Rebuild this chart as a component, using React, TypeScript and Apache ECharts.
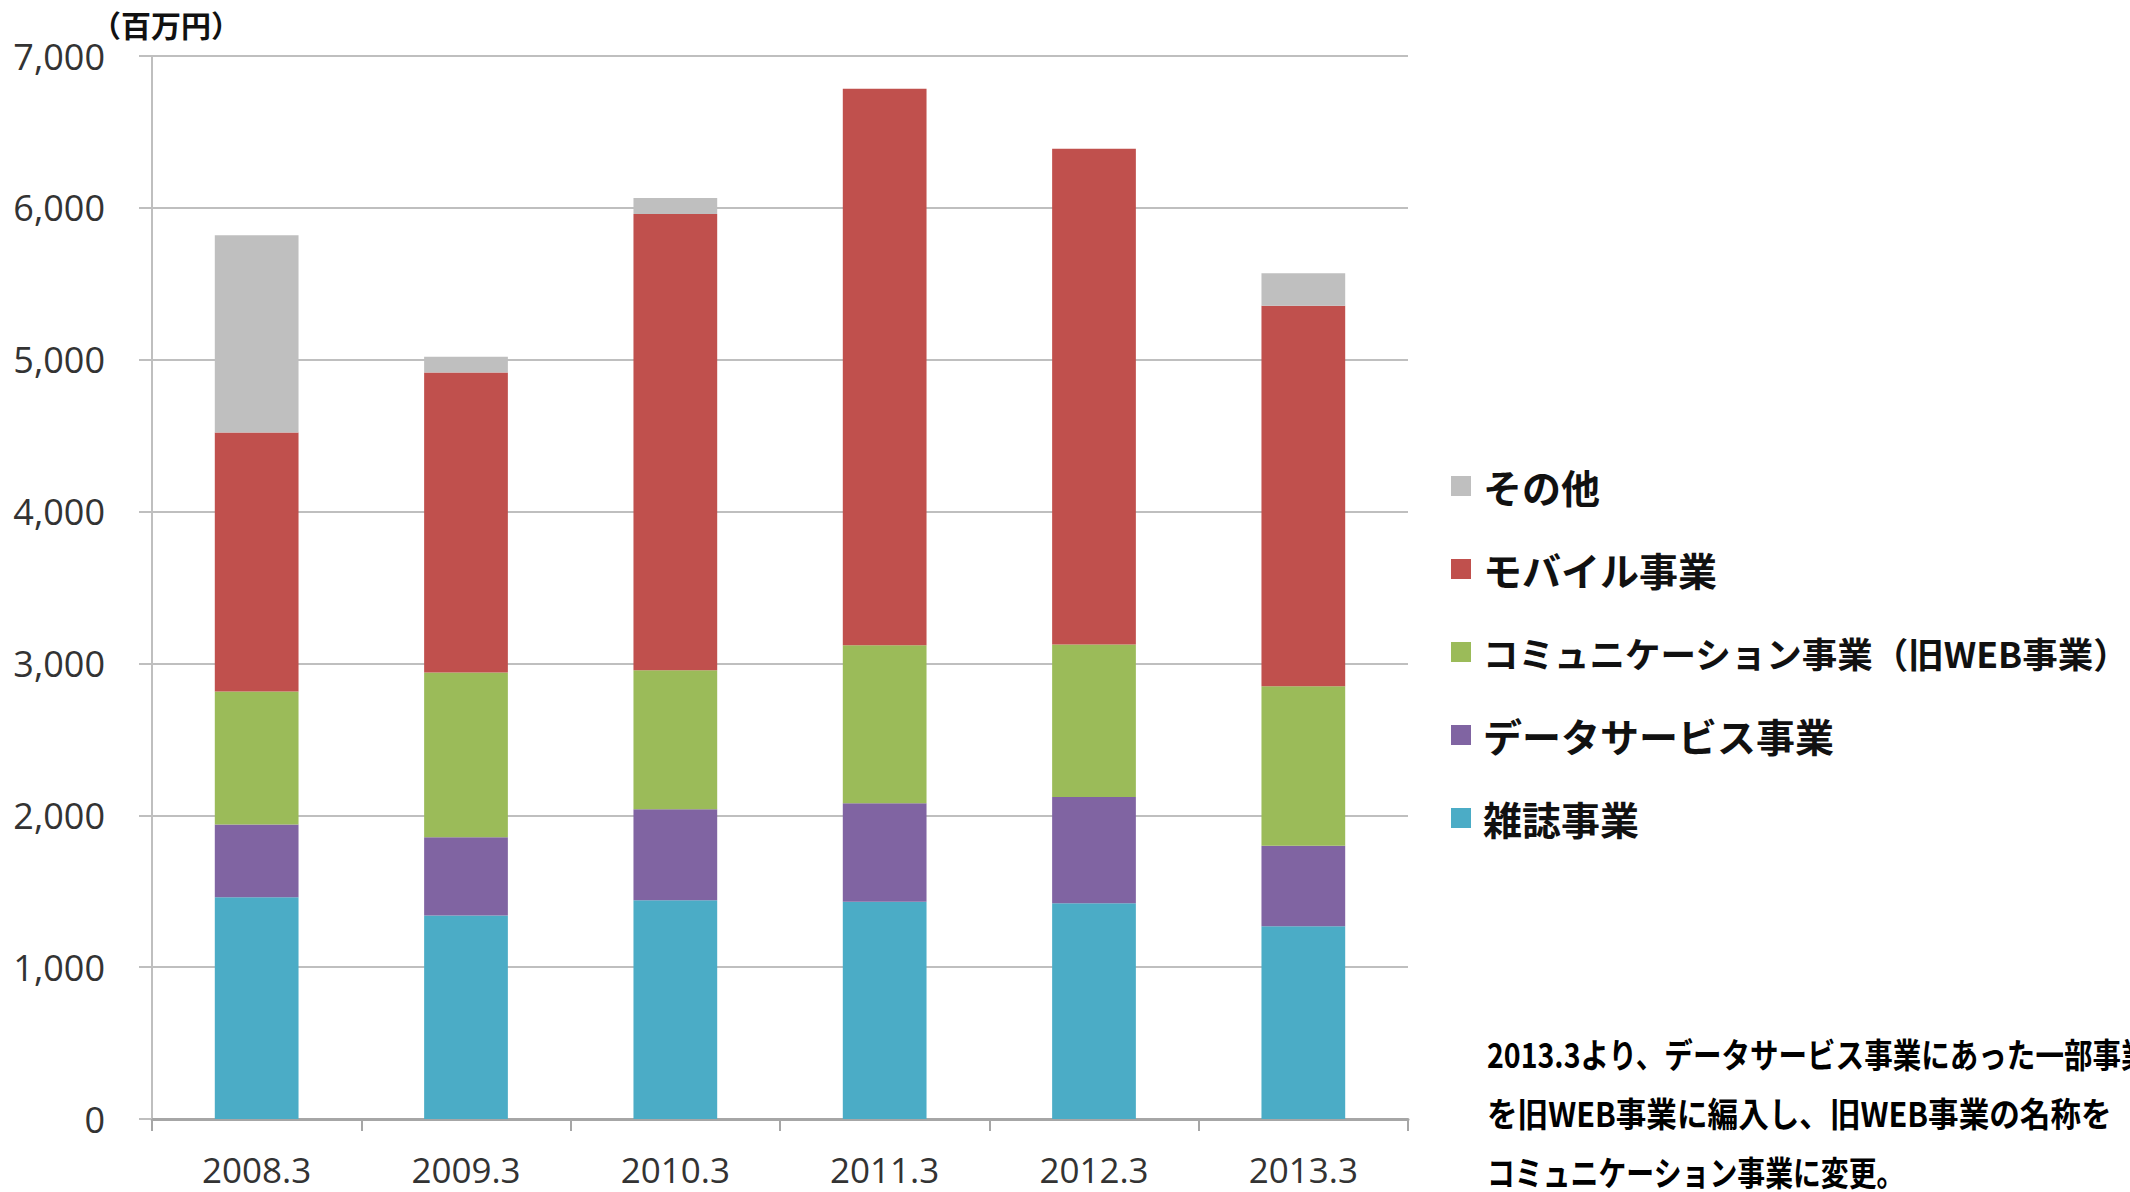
import React, { useEffect, useRef } from "react";
import * as echarts from "echarts";

const categories = ["2008.3", "2009.3", "2010.3", "2011.3", "2012.3", "2013.3"];
const magazine = [1460, 1340, 1440, 1430, 1420, 1270];
const dataService = [480, 515, 600, 650, 700, 530];
const communication = [875, 1085, 915, 1040, 1005, 1050];
const mobile = [1705, 1975, 3005, 3665, 3265, 2505];
const others = [1300, 105, 105, 0, 0, 215];

const seriesNames = ["雑誌事業", "データサービス事業", "コミュニケーション事業（旧WEB事業）", "モバイル事業", "その他"];
const seriesColors = ["#4BACC6", "#8064A2", "#9BBB59", "#C0504D", "#BFBFBF"];
const seriesValues = [magazine, dataService, communication, mobile, others];

const unitLabel = "（百万円）";
const noteLines = [
  "2013.3より、データサービス事業にあった一部事業",
  "を旧WEB事業に編入し、旧WEB事業の名称を",
  "コミュニケーション事業に変更。",
];
const noteScaleX = [0.84, 0.9, 0.82];

export default function App() {
  const ref = useRef<HTMLDivElement>(null);
  useEffect(() => {
    if (!ref.current) return;
    const chart = echarts.init(ref.current, undefined, { renderer: "svg" });
    const cjk = '"Noto Sans CJK JP", sans-serif';
    const axisFont = '"Open Sans", "Noto Sans", sans-serif';
    const longName = seriesNames[2];
    chart.setOption({
      animation: false,
      backgroundColor: "#ffffff",
      grid: { left: 152, top: 56, width: 1256, height: 1063, containLabel: false },
      legend: {
        orient: "vertical",
        left: 1446,
        top: 461,
        itemWidth: 20,
        itemHeight: 20,
        itemGap: 43,
        icon: "rect",
        data: [seriesNames[4], seriesNames[3], seriesNames[2], seriesNames[1], seriesNames[0]],
        formatter: (name: string) => (name === longName ? `{l|${name}}` : `{n|${name}}`),
        textStyle: {
          fontFamily: cjk,
          fontSize: 38,
          fontWeight: "bold",
          color: "#111",
          lineHeight: 40,
          padding: [0, 0, 0, 7],
          rich: {
            n: { fontFamily: cjk, fontSize: 39, fontWeight: "bold", color: "#111", lineHeight: 40 },
            l: { fontFamily: cjk, fontSize: 35.5, fontWeight: "bold", color: "#111", lineHeight: 40 },
          },
        },
      },
      xAxis: {
        type: "category",
        data: categories,
        axisLine: { show: true, lineStyle: { color: "#A6A6A6", width: 3 } },
        axisTick: { show: true, length: 12, alignWithLabel: false, lineStyle: { color: "#A6A6A6", width: 2 } },
        axisLabel: { margin: 33, fontSize: 35, fontFamily: axisFont, color: "#333" },
        splitLine: { show: false },
      },
      yAxis: {
        type: "value",
        min: 0,
        max: 7000,
        interval: 1000,
        axisLine: { show: true, lineStyle: { color: "#BFBFBF", width: 2 } },
        axisTick: { show: true, length: 13, lineStyle: { color: "#BFBFBF", width: 2 } },
        axisLabel: {
          margin: 47,
          fontSize: 36,
          fontFamily: axisFont,
          color: "#333",
          formatter: (v: number) => v.toLocaleString("en-US"),
        },
        splitLine: { show: true, lineStyle: { color: "#BFBFBF", width: 2 } },
      },
      series: seriesNames.map((name, i) => ({
        name,
        type: "bar",
        stack: "total",
        barWidth: "40%",
        data: seriesValues[i],
        itemStyle: { color: seriesColors[i] },
        emphasis: { disabled: true },
      })),
      graphic: [
        {
          type: "text",
          left: 91,
          top: 8,
          style: { text: unitLabel, fontFamily: cjk, fontSize: 30, lineHeight: 32, fontWeight: "bold", fill: "#111" },
        },
        ...noteLines.map((t, i) => ({
          type: "text",
          x: 1487,
          y: 1053 + i * 59,
          scaleX: noteScaleX[i],
          style: {
            text: t,
            x: 0,
            y: 0,
            fontFamily: cjk,
            fontSize: 34,
            fontWeight: "bold",
            lineHeight: 34,
            fill: "#000",
            textVerticalAlign: "middle",
            textAlign: "left",
          },
        })),
      ],
    });
    return () => chart.dispose();
  }, []);
  return (
    <div
      ref={ref}
      style={{ position: "absolute", left: 0, top: 0, width: 2130, height: 1192, overflow: "hidden" }}
    />
  );
}
